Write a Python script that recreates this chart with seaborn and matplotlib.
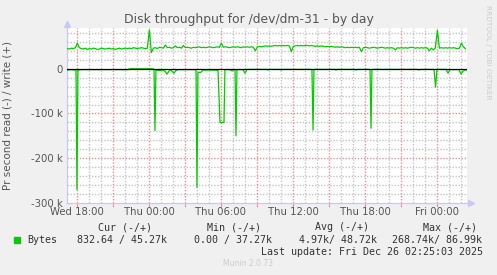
import numpy as np
import pandas as pd
import matplotlib
matplotlib.use("Agg")
import matplotlib.pyplot as plt
from matplotlib.patches import Rectangle
from matplotlib.ticker import FixedLocator
import seaborn as sns

# ---------------- data ----------------
title = "Disk throughput for /dev/dm-31 - by day"
ylabel = "Pr second read (-) / write (+)"

# write (+) series, thousands of bytes/s, 10-minute samples starting Wed 17:12
write_k = [45, 44, 46, 45, 47, 57, 47, 45, 44, 46, 43,
           45, 44, 46, 45, 43, 44, 46, 45, 44, 45,
           46, 44, 45, 43, 45, 46, 44, 45, 46, 45,
           46, 45, 47, 46, 45, 46, 47, 46, 45, 46,
           87, 36, 46, 47, 45, 48, 47, 46, 53, 47, 48, 46, 47, 51, 47, 48, 46, 52,
           47, 48, 47, 46, 48, 47, 48, 49, 47, 48, 47, 48, 49, 48, 47, 48, 49, 48,
           57,
           48, 49, 48, 47, 48, 49, 48, 49, 48, 47, 49, 48, 49, 48, 49, 48,
           40,
           49, 50, 49, 50, 51, 50, 51, 50, 51, 52, 51, 52, 51, 52, 51, 52, 51,
           38,
           50, 51, 52, 51, 52, 51, 52, 52, 51, 52, 51, 50, 51, 50, 51, 50, 49,
           50, 49, 50, 49, 48, 49, 48, 49, 48, 47, 48, 47, 48, 47, 48, 47, 48,
           38,
           47, 48, 47, 46, 47, 48, 47, 46, 47, 48, 47, 46, 47, 46, 47, 46,
           42,
           47, 46, 47, 46, 47, 46, 47, 48, 47, 46, 47, 46, 47, 46, 47, 46,
           40, 46, 42, 47, 86,
           46, 47, 46, 47, 46, 47, 46, 47, 46, 45, 46,
           57, 49, 45]
write_start_h = -0.8      # hours relative to Wed 18:00
write_step_h = 1 / 6      # 10 minutes

# read (-) series: (hours relative to Wed 18:00, thousands of bytes/s)
read_points = [(-0.83, -3), (-0.42, -2), (-0.17, -3), (-0.08, -3), (0.0, -270), (0.08, -3),
               (0.42, -2), (4.25, -2), (4.42, 0), (6.33, 0), (6.42, -1), (6.5, -138),
               (6.58, -2), (6.75, -4), (7.08, -3), (7.33, -5), (7.5, -12), (7.67, -5),
               (7.83, -3), (8.08, -10), (8.25, -4), (8.42, -2), (9.92, -2), (10.0, -265),
               (10.08, -8), (10.33, -8), (10.5, -3), (11.75, -3), (11.92, -120), (12.25, -120),
               (12.33, -2), (12.75, -2), (12.92, -5), (13.08, -2), (13.17, -2), (13.25, -150),
               (13.33, -2), (13.83, -2), (14.0, -10), (14.17, -1.5), (15.83, -1.5), (15.92, -3),
               (16.0, -1.5), (16.92, -1.5), (17.0, -3), (17.08, -1.5), (19.58, -1.5), (19.67, -137),
               (19.75, -1.5), (21.5, -1.5), (21.58, -3), (21.67, -1.5), (23.17, -1.5), (23.25, -3),
               (23.33, -1.5), (24.42, -1.5), (24.5, -133), (24.58, -1.5), (28.42, -1.5), (28.5, -3),
               (28.58, -1.5), (29.75, -1.5), (29.88, -41), (30.0, -1.5), (30.75, -1.5), (30.92, -10),
               (31.08, -2), (31.83, -2), (32.0, -12), (32.17, -5), (32.33, -3), (32.42, -3)]

x_major_ticks = [0, 6, 12, 18, 24, 30]
x_major_labels = ["Wed 18:00", "Thu 00:00", "Thu 06:00", "Thu 12:00", "Thu 18:00", "Fri 00:00"]
y_major_ticks = [0, -100, -200, -300]
y_major_labels = ["0", "-100 k", "-200 k", "-300 k"]

legend_name = "Bytes"
legend_headers = ["Cur (-/+)", "Min (-/+)", "Avg (-/+)", "Max (-/+)"]
legend_values = ["832.64 / 45.27k", "0.00 / 37.27k", "4.97k/ 48.72k", "268.74k/ 86.99k"]
last_update = "Last update: Fri Dec 26 02:25:03 2025"
footer = "Munin 2.0.73"
side_text = "RRDTOOL / TOBI OETIKER"

# ---------------- figure ----------------
W, H = 497, 275
BG = "#F0F0F0"
GREEN = "#00CC00"
TXT = "#555555"
fig = plt.figure(figsize=(W / 100, H / 100), dpi=100, facecolor=BG)

L, R, T, B = 67, 467, 28, 203
ax = fig.add_axes([L / W, 1 - B / H, (R - L) / W, (B - T) / H])
ax.set_facecolor("white")

xmin, xmax = -0.83, 32.5
ymin, ymax = -300, 91
ax.set_xlim(xmin, xmax)
ax.set_ylim(ymin, ymax)

# grids: minor light grey dotted, major light red dotted
dot = (0, (1, 1.2))
MINOR = "#C4C4C4"
MAJOR = "#EE9090"
for h in np.arange(0, 33, 1):
    if h % 3 == 0:
        continue
    ax.axvline(h, color=MINOR, lw=1.0, ls=dot, zorder=0)
for v in np.arange(-280, 91, 20):
    if v % 100 == 0:
        continue
    ax.axhline(v, color=MINOR, lw=1.0, ls=dot, zorder=0)
for h in np.arange(0, 33, 3):
    ax.axvline(h, color=MAJOR, lw=1.0, ls=dot, zorder=0.5)
for v in [-100, -200]:
    ax.axhline(v, color=MAJOR, lw=1.0, ls=dot, zorder=0.5)

# data
write_df = pd.DataFrame({"hours": write_start_h + np.arange(len(write_k)) * write_step_h,
                         "k": write_k})
read_df = pd.DataFrame(read_points, columns=["hours", "k"])
sns.lineplot(data=write_df, x="hours", y="k", ax=ax, color=GREEN, lw=0.9,
             estimator=None, sort=True, zorder=3)
sns.lineplot(data=read_df, x="hours", y="k", ax=ax, color=GREEN, lw=0.9,
             estimator=None, sort=True, zorder=3)
ax.axhline(0, color="black", lw=0.9, zorder=4)

# axes styling
for s in ["top", "right"]:
    ax.spines[s].set_visible(False)
for s in ["left", "bottom"]:
    ax.spines[s].set_color("#C8C8F4")
    ax.spines[s].set_linewidth(0.9)
ax.plot([0], [1.025], marker="^", color="#C8C8F4", ms=4, transform=ax.transAxes, clip_on=False)
ax.plot([1.01], [0], marker=">", color="#C8C8F4", ms=4, transform=ax.transAxes, clip_on=False)

ax.xaxis.set_major_locator(FixedLocator(x_major_ticks))
ax.set_xticklabels(x_major_labels)
ax.yaxis.set_major_locator(FixedLocator(y_major_ticks))
ax.set_yticklabels(y_major_labels)
ax.tick_params(axis="both", labelsize=7.3, labelcolor=TXT, length=0, pad=3)
# red tick marks every 3 h under x axis
for h in np.arange(0, 33, 3):
    ax.plot([h, h], [0, -0.015], color=MAJOR, lw=0.8, transform=ax.get_xaxis_transform(),
            clip_on=False)
ax.set_xlabel("")
ax.set_ylabel(ylabel, fontsize=7.5, color=TXT, labelpad=6)
ax.yaxis.set_label_coords(-0.137, 0.5)

# title
fig.text(249 / W, 1 - 19 / H, title, ha="center", va="center", fontsize=8.9, color=TXT)
fig.text(488 / W, 1 - 5 / H, side_text, ha="center", va="top", rotation=270,
         fontsize=5.3, color="#CCCCCC")

# legend block
mono = "DejaVu Sans Mono"
fig.add_artist(Rectangle((14 / W, 1 - 243 / H), 6 / W, 6 / H, transform=fig.transFigure,
                         color=GREEN))
fig.text(27 / W, 1 - 240 / H, legend_name, ha="left", va="center", family=mono, fontsize=7.2,
         color="#333333")
for xh, txt in zip([98, 207, 315, 423], legend_headers):
    fig.text(xh / W, 1 - 227 / H, txt, ha="left", va="center", family=mono, fontsize=7.2,
             color="#333333")
for xv, txt in zip([77, 194, 299, 392], legend_values):
    fig.text(xv / W, 1 - 240 / H, txt, ha="left", va="center", family=mono, fontsize=7.2,
             color="#333333")
fig.text(483 / W, 1 - 252 / H, last_update, ha="right", va="center", family=mono,
         fontsize=7.2, color="#333333")
fig.text(248 / W, 1 - 264 / H, footer, ha="center", va="center", fontsize=5.5,
         color="#CCCCCC")

fig.savefig("out.png", dpi=100, facecolor=BG)
